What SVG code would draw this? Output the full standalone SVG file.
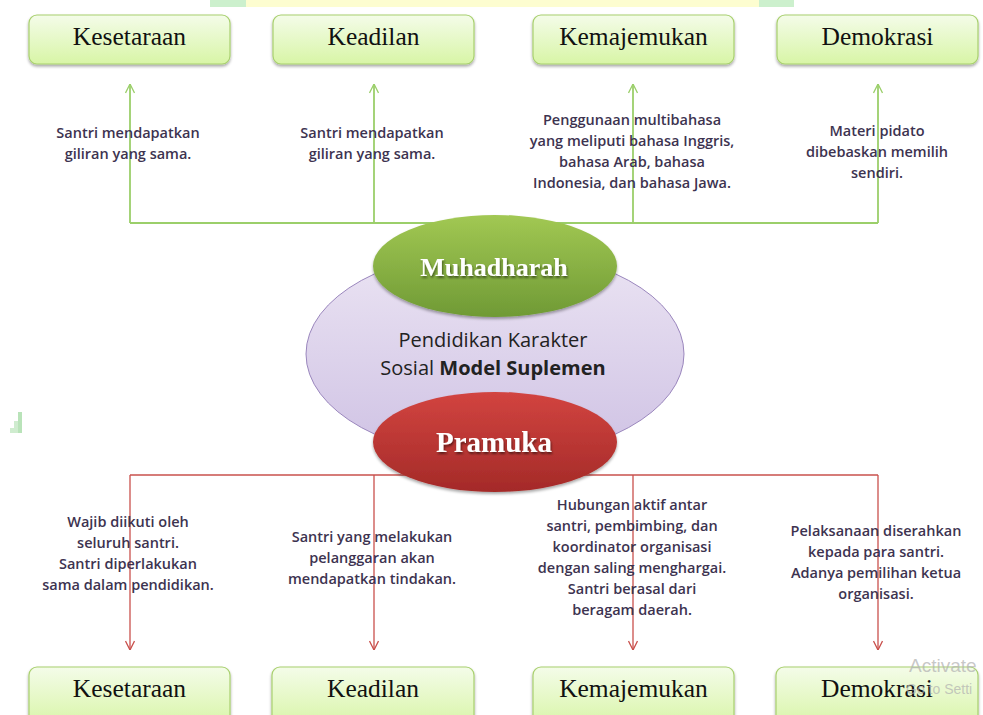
<svg xmlns="http://www.w3.org/2000/svg" width="983" height="715" viewBox="0 0 983 715">
<defs>
<linearGradient id="gBox" x1="0" y1="0" x2="0" y2="1">
<stop offset="0" stop-color="#f4fce9"/>
<stop offset="1" stop-color="#d8f5a6"/>
</linearGradient>
<linearGradient id="gLav" x1="0" y1="0" x2="0" y2="1">
<stop offset="0" stop-color="#ebe4f3"/>
<stop offset="1" stop-color="#cfc2e4"/>
</linearGradient>
<linearGradient id="gGreen" x1="0" y1="0" x2="0" y2="1">
<stop offset="0" stop-color="#a2c853"/>
<stop offset="1" stop-color="#6f9a35"/>
</linearGradient>
<linearGradient id="gRed" x1="0" y1="0" x2="0" y2="1">
<stop offset="0" stop-color="#d24440"/>
<stop offset="1" stop-color="#a42a28"/>
</linearGradient>
<filter id="sh" x="-10%" y="-10%" width="120%" height="140%">
<feGaussianBlur in="SourceAlpha" stdDeviation="1.5"/>
<feOffset dy="2" result="b"/>
<feComponentTransfer><feFuncA type="linear" slope="0.35"/></feComponentTransfer>
<feMerge><feMergeNode/><feMergeNode in="SourceGraphic"/></feMerge>
</filter>
<filter id="tsh" x="-10%" y="-20%" width="120%" height="150%">
<feGaussianBlur in="SourceAlpha" stdDeviation="1"/>
<feOffset dx="1" dy="1.5" result="b"/>
<feComponentTransfer><feFuncA type="linear" slope="0.5"/></feComponentTransfer>
<feMerge><feMergeNode/><feMergeNode in="SourceGraphic"/></feMerge>
</filter>
<marker id="aG" viewBox="0 0 10 10" refX="10" refY="5" markerWidth="10" markerHeight="10" markerUnits="userSpaceOnUse" orient="auto">
<path d="M1,0.5 L10,5 L1,9.5" fill="none" stroke="#9bcf6a" stroke-width="1.3"/>
</marker>
<marker id="aR" viewBox="0 0 10 10" refX="10" refY="5" markerWidth="10" markerHeight="10" markerUnits="userSpaceOnUse" orient="auto">
<path d="M1,0.5 L10,5 L1,9.5" fill="none" stroke="#c9504c" stroke-width="1.3"/>
</marker>
<style>
.box{fill:url(#gBox);stroke:#a8d06e;stroke-width:1.2;filter:url(#sh)}
.bt{font-family:"Liberation Serif",serif;font-size:25.5px;fill:#111;text-anchor:middle}
.lbl{font-family:"Open Sans","Liberation Sans",sans-serif;font-size:14.5px;fill:#3d3350;text-anchor:middle;font-weight:600}
.cg{stroke:#9bcf6a;stroke-width:1.8;fill:none}
.cr{stroke:#c9504c;stroke-width:1.3;fill:none}
.ct{font-family:"Open Sans","Liberation Sans",sans-serif;font-size:20px;fill:#222;text-anchor:middle}
.et{font-family:"Liberation Serif",serif;font-weight:bold;fill:#fff;text-anchor:middle;filter:url(#tsh)}
</style>
</defs>
<rect width="983" height="715" fill="#ffffff"/>
<rect x="210" y="0" width="584" height="7" fill="#fdfdd0"/>
<rect x="210" y="0" width="36" height="7" fill="#ccf0cd"/>
<rect x="759" y="0" width="35" height="7" fill="#ccf0cd"/>
<g id="artifact" fill="#cfeccf">
<rect x="10" y="428" width="4" height="5"/>
<rect x="14" y="421" width="4" height="12"/>
<rect x="18" y="412" width="4" height="21" fill="#b9e3b9"/>
</g>

<g id="connectors">
<path class="cg" d="M130,223 H878"/>
<path class="cg" d="M130,223 V84" marker-end="url(#aG)"/>
<path class="cg" d="M374,223 V84" marker-end="url(#aG)"/>
<path class="cg" d="M633,223 V84" marker-end="url(#aG)"/>
<path class="cg" d="M878,223 V84" marker-end="url(#aG)"/>
<path class="cr" d="M130,475 H878"/>
<path class="cr" d="M130,475 V650" marker-end="url(#aR)"/>
<path class="cr" d="M374,475 V650" marker-end="url(#aR)"/>
<path class="cr" d="M633,475 V650" marker-end="url(#aR)"/>
<path class="cr" d="M878,475 V650" marker-end="url(#aR)"/>
</g>

<g id="top-kesetaraan"><rect class="box" x="29" y="15" width="201" height="49" rx="8"/><text class="bt" x="129.5" y="45">Kesetaraan</text></g>
<g id="top-keadilan"><rect class="box" x="273" y="15" width="201" height="49" rx="8"/><text class="bt" x="373.5" y="45">Keadilan</text></g>
<g id="top-kemajemukan"><rect class="box" x="533" y="15" width="201" height="49" rx="8"/><text class="bt" x="633.5" y="45">Kemajemukan</text></g>
<g id="top-demokrasi"><rect class="box" x="777" y="15" width="201" height="49" rx="8"/><text class="bt" x="877.5" y="45">Demokrasi</text></g>

<g id="bot-kesetaraan"><rect class="box" x="29" y="667" width="201" height="60" rx="8"/><text class="bt" x="129.5" y="697">Kesetaraan</text></g>
<g id="bot-keadilan"><rect class="box" x="272" y="667" width="202" height="60" rx="8"/><text class="bt" x="373" y="697">Keadilan</text></g>
<g id="bot-kemajemukan"><rect class="box" x="533" y="667" width="201" height="60" rx="8"/><text class="bt" x="633.5" y="697">Kemajemukan</text></g>
<g id="bot-demokrasi"><rect class="box" x="776" y="667" width="202" height="60" rx="8"/><text class="bt" x="877" y="697">Demokrasi</text></g>

<g id="label-top-1"><text class="lbl" x="128" y="138">Santri mendapatkan</text><text class="lbl" x="128" y="159">giliran yang sama.</text></g>
<g id="label-top-2"><text class="lbl" x="372" y="138">Santri mendapatkan</text><text class="lbl" x="372" y="159">giliran yang sama.</text></g>
<g id="label-top-3"><text class="lbl" x="632" y="125">Penggunaan multibahasa</text><text class="lbl" x="632" y="146">yang meliputi bahasa Inggris,</text><text class="lbl" x="632" y="167">bahasa Arab, bahasa</text><text class="lbl" x="632" y="188">Indonesia, dan bahasa Jawa.</text></g>
<g id="label-top-4"><text class="lbl" x="877" y="136">Materi pidato</text><text class="lbl" x="877" y="157">dibebaskan memilih</text><text class="lbl" x="877" y="178">sendiri.</text></g>

<g id="label-bot-1"><text class="lbl" x="128" y="527">Wajib diikuti oleh</text><text class="lbl" x="128" y="548">seluruh santri.</text><text class="lbl" x="128" y="569">Santri diperlakukan</text><text class="lbl" x="128" y="590">sama dalam pendidikan.</text></g>
<g id="label-bot-2"><text class="lbl" x="372" y="542">Santri yang melakukan</text><text class="lbl" x="372" y="563">pelanggaran akan</text><text class="lbl" x="372" y="584">mendapatkan tindakan.</text></g>
<g id="label-bot-3"><text class="lbl" x="632" y="510">Hubungan aktif antar</text><text class="lbl" x="632" y="531">santri, pembimbing, dan</text><text class="lbl" x="632" y="552">koordinator organisasi</text><text class="lbl" x="632" y="573">dengan saling menghargai.</text><text class="lbl" x="632" y="594">Santri berasal dari</text><text class="lbl" x="632" y="615">beragam daerah.</text></g>
<g id="label-bot-4"><text class="lbl" x="876" y="536">Pelaksanaan diserahkan</text><text class="lbl" x="876" y="557">kepada para santri.</text><text class="lbl" x="876" y="578">Adanya pemilihan ketua</text><text class="lbl" x="876" y="599">organisasi.</text></g>

<g id="center">
<ellipse cx="495" cy="354" rx="189" ry="104" fill="url(#gLav)" stroke="#9a86bd" stroke-width="1"/>
<text class="ct" x="493" y="347">Pendidikan Karakter</text>
<text class="ct" x="493" y="375">Sosial <tspan font-weight="bold">Model Suplemen</tspan></text>
</g>
<g id="muhadharah">
<ellipse cx="495" cy="266" rx="122" ry="51" fill="url(#gGreen)" filter="url(#sh)"/>
<text class="et" x="494" y="276" font-size="26">Muhadharah</text>
</g>
<g id="pramuka">
<ellipse cx="495" cy="442" rx="122" ry="50" fill="url(#gRed)" filter="url(#sh)"/>
<text class="et" x="494" y="452" font-size="29">Pramuka</text>
</g>

<g id="watermark" font-family="'Liberation Sans',sans-serif" fill="#b0b0b0" fill-opacity="0.7">
<text x="909" y="672" font-size="19">Activate</text>
<text x="906" y="694" font-size="14">Go to Setti</text>
</g>
</svg>
